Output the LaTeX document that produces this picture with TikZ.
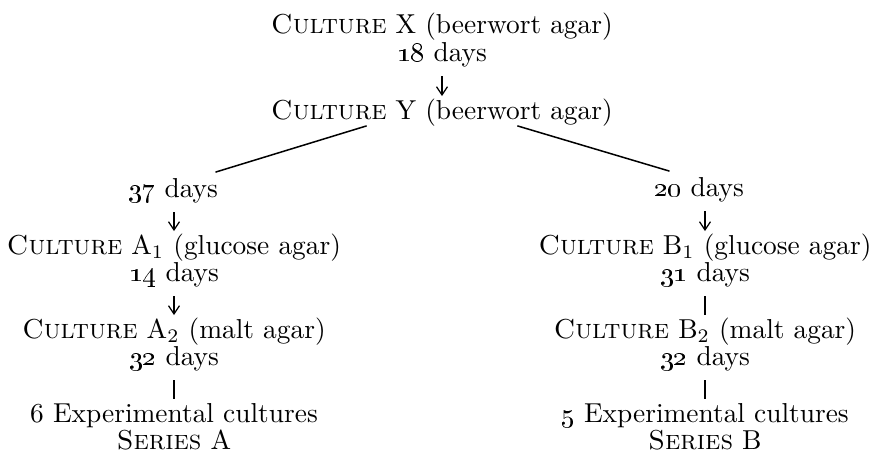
\documentclass[tikz,border=0pt]{standalone}
\usepackage{xcolor}
\usepackage{tikz}
\usetikzlibrary{arrows.meta,calc}

\tikzset{
  txt/.style={inner sep=0pt, text height=7pt, text depth=2pt},
  step arrow/.style={-{Straight Barb[length=3pt,width=4pt]}, line width=0.45pt, shorten >=1.5pt, shorten <=3pt},
  step bar/.style={line width=0.45pt, shorten >=1.5pt, shorten <=3pt},
  branch/.style={line width=0.55pt}
}
\newcommand{\cult}[1]{\textsc{Culture} #1}
\newcommand{\ndays}[1]{\oldstylenums{#1} days}

\begin{document}
\begin{tikzpicture}[x=0.365pt, y=-0.365pt]
      \useasboundingbox (0,0) rectangle (872,453);

      % Top
      \node[txt] (cultX) at (442,27) {\cult{X} (beerwort agar)};
      \node[txt] (days18) at (442,55) {\ndays{18}};
      \node[txt] (cultY) at (442,113) {\cult{Y} (beerwort agar)};
      \draw[step arrow] (days18) -- (cultY);

      % Left branch
      \node[txt] (days37) at (173,191) {\ndays{37}};
      \node[txt] (cultA1) at (174,248) {\cult{A$_1$} (glucose agar)};
      \node[txt] (days14) at (174,275) {\ndays{14}};
      \node[txt] (cultA2) at (174,332) {\cult{A$_2$} (malt agar)};
      \node[txt] (days32a) at (174,359) {\ndays{32}};
      \node[txt] (expA) at (174,416) {6 Experimental cultures};
      \node[txt] (seriesA) at (174,443) {\textsc{Series} A};
      \draw[step arrow] (days37.south -| cultA1) -- (cultA1);
      \draw[step arrow] (days14) -- (cultA2);
      \draw[step bar] (days32a) -- (expA);

      % Right branch
      \node[txt] (days20) at (699,190) {\ndays{20}};
      \node[txt] (cultB1) at (705,248) {\cult{B$_1$} (glucose agar)};
      \node[txt] (days31) at (705,275) {\ndays{31}};
      \node[txt] (cultB2) at (705,332) {\cult{B$_2$} (malt agar)};
      \node[txt] (days32b) at (705,359) {\ndays{32}};
      \node[txt] (expB) at (705,416) {\oldstylenums{5} Experimental cultures};
      \node[txt] (seriesB) at (705,443) {\textsc{Series} B};
      \draw[step arrow] (days20.south -| cultB1) -- (cultB1);
      \draw[step bar] (days31) -- (cultB2);
      \draw[step bar] (days32b) -- (expB);

      % Branch lines
      \draw[branch] ($(cultY.south west)!0.28!(cultY.south east)$) -- ($(days37.north east)+(-3,-6)$);
      \draw[branch] ($(cultY.south west)!0.72!(cultY.south east)$) -- ($(days20.north west)+(16,-6)$);
\end{tikzpicture}
\end{document}
